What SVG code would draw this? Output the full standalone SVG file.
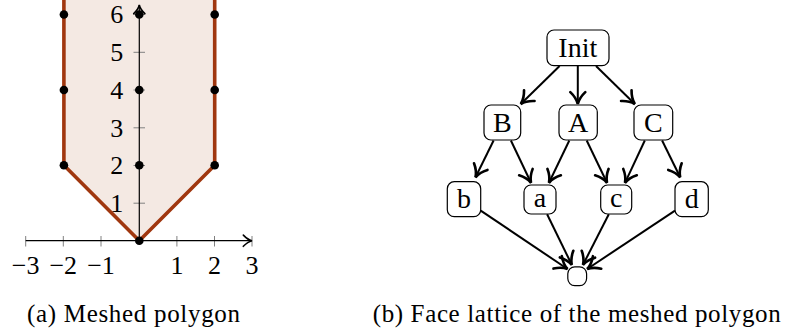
<svg xmlns="http://www.w3.org/2000/svg" width="786" height="331" viewBox="0 0 786 331">
<style>
text{font-family:"Liberation Serif","Times New Roman",serif;fill:#000}
.tick{stroke:#808080;stroke-width:1}
.axis{stroke:#000;stroke-width:1.2;fill:none}
.edge{stroke:#a0370f;stroke-width:3.6;fill:none;stroke-linejoin:round}
.pt{fill:#000}
.lbl{font-size:26px;text-anchor:middle}
.node rect{fill:#fff;stroke:#000;stroke-width:1.2}
.node text{font-size:28px;text-anchor:middle}
.conn line{stroke:#000;stroke-width:2;marker-end:url(#arr)}
.cap{font-size:25px;text-anchor:middle}
</style>
<defs>
<marker id="arr" markerUnits="userSpaceOnUse" markerWidth="20" markerHeight="20" viewBox="-12 -8 14 16" refX="0" refY="0" orient="auto">
<path d="M-9.5,-6 C-6.5,-2.8 -2.8,-0.7 0,0 C-2.8,0.7 -6.5,2.8 -9.5,6" fill="none" stroke="#000" stroke-width="2.1" stroke-linecap="round"/>
</marker>
<marker id="axarr" markerUnits="userSpaceOnUse" markerWidth="16" markerHeight="16" viewBox="-10 -6 12 12" refX="0" refY="0" orient="auto">
<path d="M-6.5,-4.2 C-4.3,-1.9 -1.9,-0.4 0,0 C-1.9,0.4 -4.3,1.9 -6.5,4.2" fill="none" stroke="#000" stroke-width="1.2" stroke-linecap="round"/>
</marker>
</defs>

<g id="plot">
<polygon points="63.9,-5 63.9,165.3 139.3,240.7 214.7,165.3 214.7,-5" fill="#f4e9e3"/>
<g id="ticks">
<line class="tick" x1="25.7" y1="236" x2="25.7" y2="246.5"/>
<line class="tick" x1="63.3" y1="236" x2="63.3" y2="246.5"/>
<line class="tick" x1="101" y1="236" x2="101" y2="246.5"/>
<line class="tick" x1="176.9" y1="236" x2="176.9" y2="246.5"/>
<line class="tick" x1="214.5" y1="236" x2="214.5" y2="246.5"/>
<line class="tick" x1="252" y1="236" x2="252" y2="246.5"/>
<line class="tick" x1="133.5" y1="203.2" x2="145" y2="203.2"/>
<line class="tick" x1="133.5" y1="165.5" x2="145" y2="165.5"/>
<line class="tick" x1="133.5" y1="127.8" x2="145" y2="127.8"/>
<line class="tick" x1="133.5" y1="90" x2="145" y2="90"/>
<line class="tick" x1="133.5" y1="52.3" x2="145" y2="52.3"/>
<line class="tick" x1="133.5" y1="14.5" x2="145" y2="14.5"/>
</g>
<line class="axis" x1="25.7" y1="240.7" x2="252" y2="240.7" marker-end="url(#axarr)"/>
<line class="axis" x1="139.3" y1="240.7" x2="139.3" y2="5" marker-end="url(#axarr)"/>
<polyline class="edge" points="63.9,-5 63.9,165.3 139.3,240.7 214.7,165.3 214.7,-5"/>
<g id="points">
<circle class="pt" cx="63.9" cy="165.3" r="4.3"/>
<circle class="pt" cx="63.9" cy="90" r="4.3"/>
<circle class="pt" cx="63.9" cy="14.5" r="4.3"/>
<circle class="pt" cx="139.3" cy="240.7" r="4.3"/>
<circle class="pt" cx="139.3" cy="165.3" r="4.3"/>
<circle class="pt" cx="139.3" cy="90" r="4.3"/>
<circle class="pt" cx="139.3" cy="14.5" r="4.3"/>
<circle class="pt" cx="214.7" cy="165.3" r="4.3"/>
<circle class="pt" cx="214.7" cy="90" r="4.3"/>
<circle class="pt" cx="214.7" cy="14.5" r="4.3"/>
</g>
<g id="xlabels">
<text class="lbl" x="25.7" y="273.5">−3</text>
<text class="lbl" x="63.3" y="273.5">−2</text>
<text class="lbl" x="101" y="273.5">−1</text>
<text class="lbl" x="176.9" y="273.5">1</text>
<text class="lbl" x="214.5" y="273.5">2</text>
<text class="lbl" x="252" y="273.5">3</text>
</g>
<g id="ylabels">
<text class="lbl" x="116.8" y="212">1</text>
<text class="lbl" x="116.8" y="174.3">2</text>
<text class="lbl" x="116.8" y="136.6">3</text>
<text class="lbl" x="116.8" y="98.8">4</text>
<text class="lbl" x="116.8" y="61.1">5</text>
<text class="lbl" x="116.8" y="23.3">6</text>
</g>
<text class="cap" x="133.5" y="321.5" textLength="213" lengthAdjust="spacing">(a) Meshed polygon</text>
</g>

<g id="connectors" class="conn">
<line x1="559.6" y1="66" x2="520.8" y2="104"/>
<line x1="577.8" y1="66" x2="577.8" y2="104"/>
<line x1="596" y1="66" x2="634.8" y2="104"/>
<line x1="493.6" y1="140.5" x2="475.5" y2="177.3"/>
<line x1="510.9" y1="140.5" x2="531" y2="182.8"/>
<line x1="569.3" y1="140.5" x2="549" y2="182.8"/>
<line x1="586.7" y1="140.5" x2="607" y2="182.8"/>
<line x1="644.8" y1="140.5" x2="625" y2="182.8"/>
<line x1="662.1" y1="140.5" x2="680.2" y2="177.3"/>
<line x1="480.7" y1="210.6" x2="567.5" y2="269"/>
<line x1="547.1" y1="214.3" x2="571.8" y2="264.8"/>
<line x1="608.8" y1="214.3" x2="583" y2="264.8"/>
<line x1="675" y1="210.6" x2="587.2" y2="269"/>
</g>

<g id="node-init" class="node"><rect x="547" y="30" width="62" height="35.7" rx="7"/><text x="577.8" y="57.3">Init</text></g>
<g id="node-B" class="node"><rect x="484" y="105" width="36.7" height="35" rx="7"/><text x="502.3" y="132.3">B</text></g>
<g id="node-A" class="node"><rect x="559" y="105" width="38.3" height="35" rx="7"/><text x="578.1" y="132.3">A</text></g>
<g id="node-C" class="node"><rect x="634" y="105" width="38.7" height="35" rx="7"/><text x="653.3" y="132.3">C</text></g>
<g id="node-b" class="node"><rect x="447.3" y="181.7" width="33.4" height="35" rx="7"/><text x="464" y="207.5">b</text></g>
<g id="node-a" class="node"><rect x="524" y="185" width="32" height="29" rx="7"/><text x="540" y="207">a</text></g>
<g id="node-c" class="node"><rect x="600.7" y="185" width="31" height="29" rx="7"/><text x="616.2" y="207">c</text></g>
<g id="node-d" class="node"><rect x="675" y="181.7" width="33.3" height="35" rx="7"/><text x="691.7" y="207.5">d</text></g>
<g id="node-empty" class="node"><rect x="567.8" y="266.8" width="18.8" height="18.8" rx="7"/></g>

<text class="cap" x="576.7" y="321.5" textLength="408" lengthAdjust="spacing">(b) Face lattice of the meshed polygon</text>
</svg>
